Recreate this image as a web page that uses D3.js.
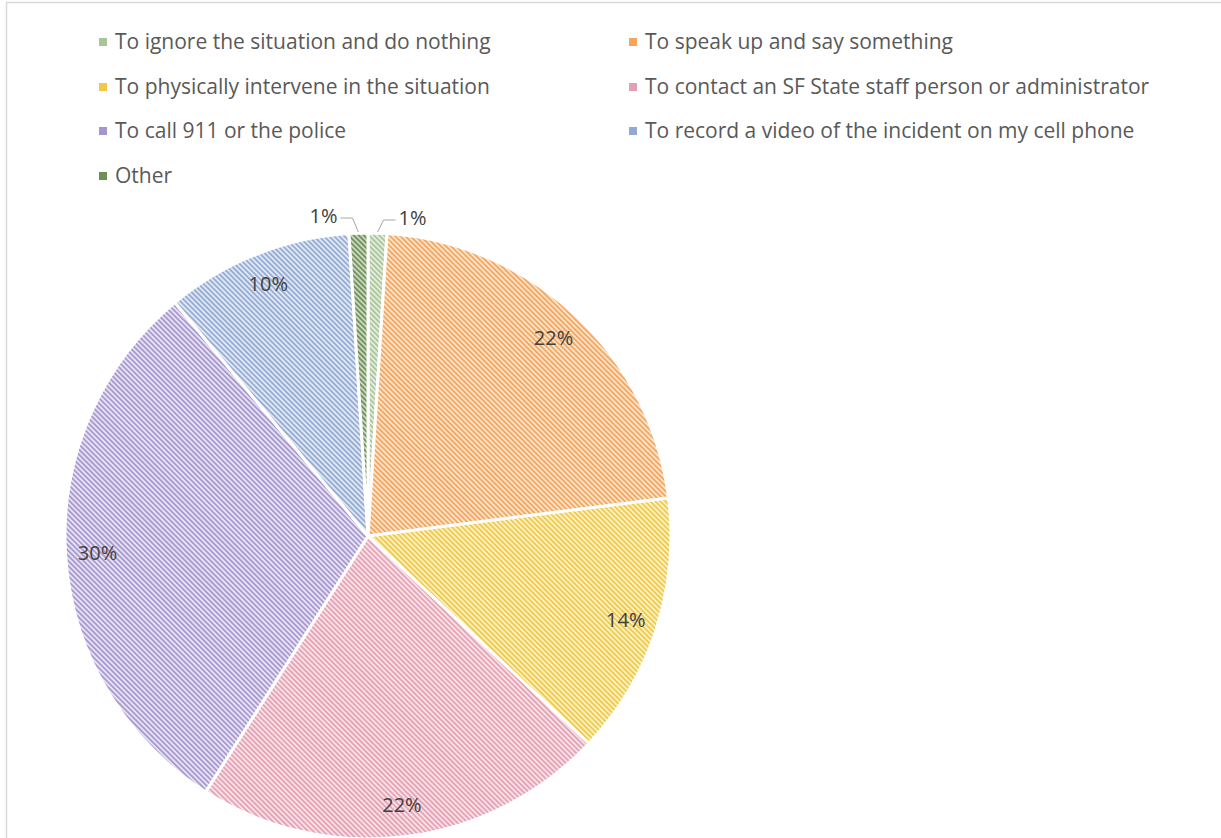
<!DOCTYPE html>
<html>
<head>
<meta charset="utf-8">
<script src="https://cdn.jsdelivr.net/npm/d3@7/dist/d3.min.js"></script>
<style>
    body { margin: 0; background: #fff; }
    text { font-family: "Open Sans", "Noto Sans", sans-serif; }
</style>
</head>
<body>
<div id="chart"></div>
<script>
// answers, in the order of the pie (clockwise from the top)
const categories = [
    'To ignore the situation and do nothing',
    'To speak up and say something',
    'To physically intervene in the situation',
    'To contact an SF State staff person or administrator',
    'To call 911 or the police',
    'To record a video of the incident on my cell phone',
    'Other'
]
const shares = [1, 22, 14, 22, 30, 10, 1]
const shareLabels = ['1%', '22%', '14%', '22%', '30%', '10%', '1%']

// stripe colour / background colour of each hatch
const stripeColors = ['#a8c49a', '#f3a55f', '#efc945', '#e4a0b3', '#a596cf', '#92aad3', '#6e8e58']
const fillColors   = ['#e4ecdd', '#fce2c6', '#fbf0c4', '#f8e0e7', '#e7e2f3', '#e0e7f3', '#c9d7bf']

const width = 1221
const height = 838
const cx = 368, cy = 536
const radius = 303

const svg = d3.select('#chart')
    .append('svg')
    .attr('width', width)
    .attr('height', height)

// hatch patterns
const defs = svg.append('defs')
categories.forEach((c, i) => {
    const p = defs.append('pattern')
        .attr('id', 'hatch' + i)
        .attr('patternUnits', 'userSpaceOnUse')
        .attr('width', 3.6)
        .attr('height', 3.6)
        .attr('patternTransform', 'rotate(-45)')
    p.append('rect')
        .attr('width', 3.6).attr('height', 3.6)
        .attr('fill', fillColors[i])
    p.append('rect')
        .attr('width', 1.7).attr('height', 3.6)
        .attr('fill', stripeColors[i])
})

// chart frame
svg.append('rect')
    .attr('x', 6.5).attr('y', 2.5)
    .attr('width', 1400).attr('height', 1000)
    .attr('fill', 'none')
    .attr('stroke', '#d9d9d9')
    .attr('stroke-width', 1.5)

const pie = d3.pie().sort(null).value(d => d.value)
const data = pie(categories.map((name, i) => ({name, value: shares[i], label: shareLabels[i], i})))

const arc = d3.arc().innerRadius(0).outerRadius(radius)
const labelArc = d3.arc().innerRadius(271).outerRadius(271)

const g = svg.append('g').attr('transform', `translate(${cx},${cy})`)

g.selectAll('path.slice')
    .data(data)
    .enter()
    .append('path')
    .classed('slice', true)
    .attr('d', arc)
    .attr('fill', d => `url(#hatch${d.data.i})`)
    .attr('stroke', '#fff')
    .attr('stroke-width', 3)

// labels inside the big slices
g.selectAll('text.inside')
    .data(data.filter(d => d.data.value >= 5))
    .enter()
    .append('text')
    .classed('inside', true)
    .attr('x', d => labelArc.centroid(d)[0])
    .attr('y', d => labelArc.centroid(d)[1])
    .attr('dy', '0.35em')
    .attr('text-anchor', 'middle')
    .style('font-size', '20px')
    .style('fill', '#404040')
    .text(d => d.data.label)

// small slices get a label outside with a leader line
const small = data.filter(d => d.data.value < 5)
small.forEach(d => {
    const mid = (d.startAngle + d.endAngle) / 2
    const side = Math.sin(mid) >= 0 ? 1 : -1
    const edge = [Math.sin(mid) * (radius + 1), -Math.cos(mid) * (radius + 1)]
    const elbow = [edge[0] + side * 6, -radius - 15 + (side > 0 ? 2 : 0)]
    const end = [elbow[0] + side * 12, elbow[1]]
    g.append('polyline')
        .attr('points', [edge, elbow, end].map(p => p.join(',')).join(' '))
        .attr('fill', 'none')
        .attr('stroke', '#a6a6a6')
        .attr('stroke-width', 1)
    g.append('text')
        .attr('x', end[0] + side * 3)
        .attr('y', end[1] - 2)
        .attr('dy', '0.35em')
        .attr('text-anchor', side > 0 ? 'start' : 'end')
        .style('font-size', '20px')
        .style('fill', '#404040')
        .text(d.data.label)
})

// legend, two columns
const legend = svg.append('g')
const colX = [99, 629]
const rowY = [42, 87, 131, 176]
const item = legend.selectAll('g.item')
    .data(categories)
    .enter()
    .append('g')
    .classed('item', true)
    .attr('transform', (d, i) => `translate(${colX[i % 2]},${rowY[Math.floor(i / 2)]})`)

item.append('rect')
    .attr('x', 0).attr('y', -4)
    .attr('width', 8).attr('height', 8)
    .attr('fill', (d, i) => stripeColors[i])

item.append('text')
    .attr('x', 16)
    .attr('dy', '0.35em')
    .style('font-size', '21px')
    .style('fill', '#595959')
    .text(d => d)
</script>
</body>
</html>
